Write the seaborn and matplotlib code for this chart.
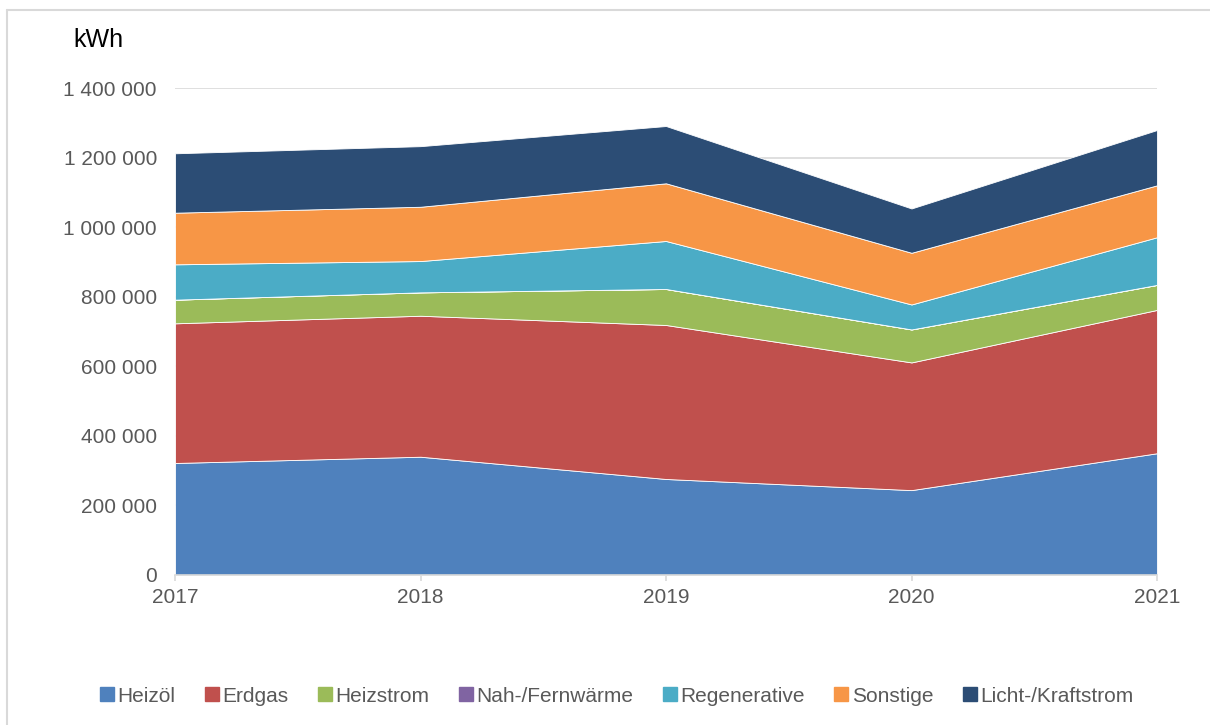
import numpy as np
import pandas as pd
import seaborn as sns
import matplotlib
matplotlib.use("Agg")
import matplotlib.pyplot as plt
from matplotlib.lines import Line2D
from matplotlib.ticker import FuncFormatter

years = [2017, 2018, 2019, 2020, 2021]
heizoel = [322000, 340000, 276000, 244000, 350000]
erdgas = [401500, 405300, 442700, 367100, 412000]
heizstrom = [68000, 67200, 103500, 94800, 71900]
fernwaerme = [0, 0, 0, 0, 0]
regenerative = [101600, 90000, 138000, 71800, 137000]
sonstige = [148400, 156100, 165800, 148600, 149300]
licht = [170800, 174200, 164700, 127400, 159000]

series_names = ["Heizöl", "Erdgas", "Heizstrom", "Nah-/Fernwärme",
                "Regenerative", "Sonstige", "Licht-/Kraftstrom"]
colors = ["#4F81BD", "#C0504D", "#9BBB59", "#8064A2",
          "#4BACC6", "#F79646", "#2C4D75"]

df = pd.DataFrame({
    "Jahr": years,
    "Heizöl": heizoel,
    "Erdgas": erdgas,
    "Heizstrom": heizstrom,
    "Nah-/Fernwärme": fernwaerme,
    "Regenerative": regenerative,
    "Sonstige": sonstige,
    "Licht-/Kraftstrom": licht,
})

sns.set_theme(style="white")
plt.rcParams['font.family'] = ['Liberation Sans', 'DejaVu Sans']

fig = plt.figure(figsize=(12.1, 7.25), dpi=100)
ax = fig.add_axes([175 / 1210, 1 - 575 / 725, (1157 - 175) / 1210, (575 - 88) / 725])

ax.stackplot(df["Jahr"], *[df[n] for n in series_names], colors=colors,
             linewidth=0.6, edgecolor="white", alpha=1.0)

ax.set_xlim(2017, 2021)
ax.set_ylim(0, 1400000)
ax.set_yticks(np.arange(0, 1400001, 200000))
ax.yaxis.set_major_formatter(FuncFormatter(lambda v, p: f"{int(v):,}".replace(",", " ")))
ax.set_xticks(years)
ax.set_xticklabels([str(y) for y in years])

ax.grid(axis="y", color="#D9D9D9", linewidth=1.2)
ax.set_axisbelow(True)
for s in ["top", "right", "left"]:
    ax.spines[s].set_visible(False)
ax.spines["bottom"].set_color("#D9D9D9")
ax.spines["bottom"].set_linewidth(1.2)
ax.spines["bottom"].set_zorder(5)

ax.tick_params(axis="y", length=0, labelsize=15, labelcolor="#595959", pad=13)
ax.tick_params(axis="x", length=4.5, width=1.2, color="#D9D9D9", labelsize=15,
               labelcolor="#595959", pad=5, direction="out", bottom=True)
ax.set_xlabel("")
ax.set_ylabel("")

fig.text(73 / 1210, 1 - 40 / 725, "kWh", fontsize=18, color="black",
         ha="left", va="center")

handles = [Line2D([0], [0], marker="s", linestyle="none", markersize=9.5,
                  markerfacecolor=c, markeredgecolor=c) for c in colors]
fig.legend(handles, series_names, loc="center", bbox_to_anchor=(616 / 1210, 1 - 696 / 725),
           ncol=7, frameon=False, fontsize=15, handletextpad=0.1,
           columnspacing=1.35, labelcolor="#595959", handlelength=0.8)

# chart frame lines
fig.add_artist(Line2D([7 / 1210, 7 / 1210], [0, 1 - 10 / 725], transform=fig.transFigure,
                      color="#D9D9D9", linewidth=1.5))
fig.add_artist(Line2D([7 / 1210, 1], [1 - 10 / 725, 1 - 10 / 725], transform=fig.transFigure,
                      color="#D9D9D9", linewidth=1.5))

fig.savefig("out.png", dpi=100)
